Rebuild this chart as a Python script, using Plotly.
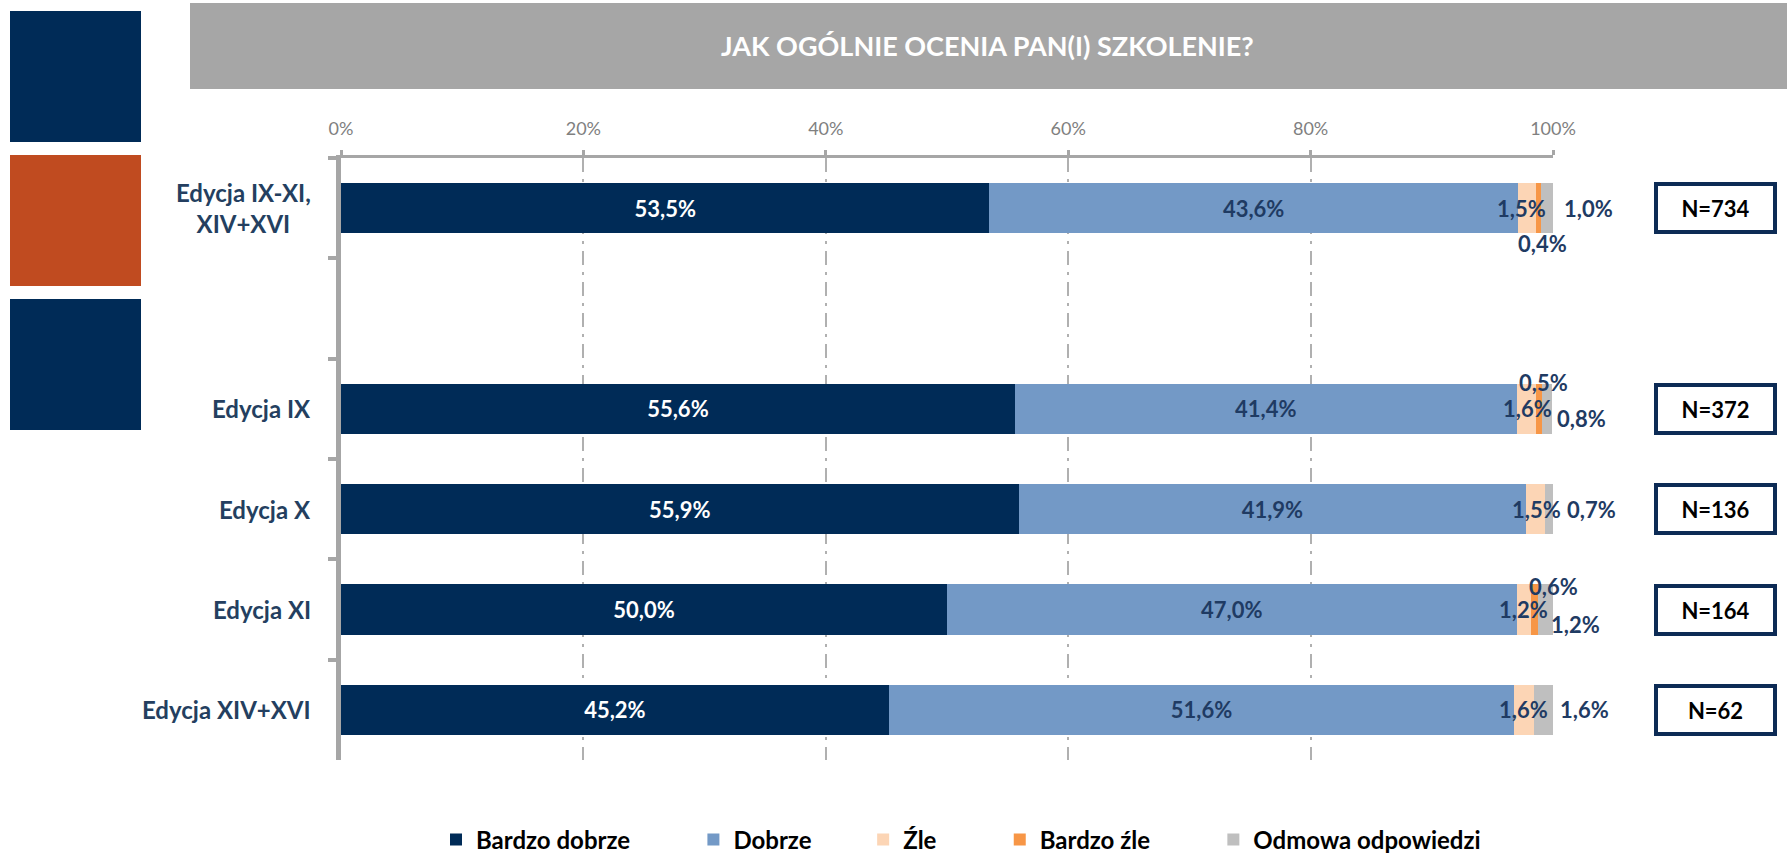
import plotly.graph_objects as go

# ---- data -------------------------------------------------------------
groups = ["Edycja IX-XI, XIV+XVI", "Edycja IX", "Edycja X", "Edycja XI", "Edycja XIV+XVI"]
group_labels = ["Edycja IX-XI,<br>XIV+XVI", "Edycja IX", "Edycja X", "Edycja XI", "Edycja XIV+XVI"]
bardzo_dobrze = [53.5, 55.6, 55.9, 50.0, 45.2]
dobrze = [43.6, 41.4, 41.9, 47.0, 51.6]
zle = [1.5, 1.6, 1.5, 1.2, 1.6]
bardzo_zle = [0.4, 0.5, 0.0, 0.6, 0.0]
odmowa = [1.0, 0.8, 0.7, 1.2, 1.6]
sample_sizes = [734, 372, 136, 164, 62]
x_ticks = [0, 20, 40, 60, 80, 100]
title_text = "JAK OGÓLNIE OCENIA PAN(I) SZKOLENIE?"

series = [
    ("Bardzo dobrze", bardzo_dobrze, "#002B57"),
    ("Dobrze", dobrze, "#7399C6"),
    ("Źle", zle, "#FCD5B5"),
    ("Bardzo źle", bardzo_zle, "#F79646"),
    ("Odmowa odpowiedzi", odmowa, "#BFBFBF"),
]

# ---- geometry (pixels) ------------------------------------------------
W, H = 1787, 854
L, R, T, B = 341, 1553, 158, 760
SPACER = " "
categories = [groups[0], SPACER] + groups[1:]

FONT = "Lato, 'Open Sans', sans-serif"
NAVY_TXT = "#1F3B63"
GRAY = "#A6A6A6"


def px_x(x):
    return (x - L) / (R - L)


def px_y(y):
    return (B - y) / (B - T)


def fmt(v):
    return f"{v:.1f}".replace(".", ",") + "%"


fig = go.Figure()

# spacing after each legend entry (non-breaking spaces)
legend_pads = [10, 8, 10, 10, 0]
for i, (name, vals, color) in enumerate(series):
    if i == 0:
        text, tcol = [fmt(v) for v in vals], "white"
    elif i == 1:
        text, tcol = [fmt(v) for v in vals], NAVY_TXT
    else:
        text, tcol = None, NAVY_TXT
    fig.add_trace(go.Bar(
        y=groups,
        x=vals,
        orientation="h",
        name=name + "\u00a0" * legend_pads[i],
        marker=dict(color=color, line=dict(width=0)),
        text=text,
        textposition="inside" if text else "none",
        insidetextanchor="middle",
        textangle=0,
        constraintext="none",
        textfont=dict(family=FONT, size=22, color=tcol, weight="bold"),
        hoverinfo="skip",
    ))

# ---- labels for the thin segments --------------------------------------
# (xshift, yshift) in pixels relative to the anchor point of each label
zle_offsets = [(-5, 0), (1, 0), (1, 0), (0, 0), (0, 0)]
bz_offsets = [(4, -35), (4, 26), (0, 0), (19, 23), (0, 0)]
odm_offsets = [(9, 0), (3, -10), (12, 0), (-4, -15), (5, 0)]

annotations = []
for r, g in enumerate(groups):
    c1 = bardzo_dobrze[r] + dobrze[r]
    c2 = c1 + zle[r]
    c3 = c2 + bardzo_zle[r]
    c4 = c3 + odmowa[r]
    lab_font = dict(family=FONT, size=22, color=NAVY_TXT, weight="bold")
    if zle[r] > 0:
        annotations.append(dict(x=(c1 + c2) / 2, y=g, text=fmt(zle[r]), showarrow=False,
                                xanchor="center", xshift=zle_offsets[r][0],
                                yshift=zle_offsets[r][1], font=lab_font))
    if bardzo_zle[r] > 0:
        annotations.append(dict(x=(c2 + c3) / 2, y=g, text=fmt(bardzo_zle[r]), showarrow=False,
                                xanchor="center", xshift=bz_offsets[r][0],
                                yshift=bz_offsets[r][1], font=lab_font))
    if odmowa[r] > 0:
        annotations.append(dict(x=c4, y=g, text=fmt(odmowa[r]), showarrow=False,
                                xanchor="left", xshift=odm_offsets[r][0],
                                yshift=odm_offsets[r][1], font=lab_font))
    # category label on the left
    annotations.append(dict(x=px_x(313), xref="paper", y=g, text=group_labels[r],
                            showarrow=False, xanchor="right", align="center",
                            font=dict(family=FONT, size=24, color="#243F60", weight="bold")))
    # sample size box on the right
    annotations.append(dict(x=px_x(1715.5), xref="paper", y=g, text=f"N={sample_sizes[r]}",
                            showarrow=False, xanchor="center", yanchor="middle",
                            width=115, height=44, borderwidth=4, borderpad=0,
                            bordercolor="#0D2B55", bgcolor="white",
                            font=dict(family=FONT, size=22, color="black", weight="bold")))

# title banner text
annotations.append(dict(x=px_x(987), y=px_y(46), xref="paper", yref="paper", text=title_text,
                        showarrow=False, xanchor="center", yanchor="middle",
                        font=dict(family=FONT, size=27, color="white", weight="bold")))

shapes = [
    # title banner
    dict(type="rect", xref="paper", yref="paper", x0=px_x(190), x1=px_x(1800),
         y0=px_y(89), y1=px_y(3), fillcolor=GRAY, line=dict(width=0), layer="below"),
    # decorative squares on the left
    dict(type="rect", xref="paper", yref="paper", x0=px_x(10), x1=px_x(141),
         y0=px_y(142), y1=px_y(11), fillcolor="#002B57", line=dict(width=0)),
    dict(type="rect", xref="paper", yref="paper", x0=px_x(10), x1=px_x(141),
         y0=px_y(286), y1=px_y(155), fillcolor="#C04B20", line=dict(width=0)),
    dict(type="rect", xref="paper", yref="paper", x0=px_x(10), x1=px_x(141),
         y0=px_y(430), y1=px_y(299), fillcolor="#002B57", line=dict(width=0)),
]

fig.update_layout(
    width=W, height=H,
    margin=dict(l=L, r=W - R, t=T, b=H - B, pad=0, autoexpand=False),
    paper_bgcolor="white", plot_bgcolor="white",
    barmode="stack", bargap=0.5,
    font=dict(family=FONT),
    showlegend=True,
    legend=dict(orientation="h", x=px_x(436), xanchor="left", y=px_y(840), yanchor="middle",
                font=dict(family=FONT, size=24, color="black", weight="bold"),
                traceorder="normal", bgcolor="rgba(0,0,0,0)", borderwidth=0),
    annotations=annotations,
    shapes=shapes,
    xaxis=dict(
        side="top", range=[0, 100], tickvals=x_ticks, ticktext=[f"{v}%" for v in x_ticks],
        showline=True, linecolor=GRAY, linewidth=3,
        ticks="outside", ticklen=5, tickwidth=3, tickcolor=GRAY,
        ticklabelstandoff=8,
        tickfont=dict(family=FONT, size=18, color="#808080"),
        showgrid=True, gridcolor="#B0B0B0", gridwidth=1.5, griddash="14px,7px,3px,7px",
        zeroline=False, fixedrange=True,
    ),
    yaxis=dict(
        type="category", categoryorder="array", categoryarray=categories,
        range=[len(categories) - 0.5, -0.5],
        showline=True, linecolor=GRAY, linewidth=5,
        ticks="outside", tickson="boundaries", ticklen=8, tickwidth=4, tickcolor=GRAY,
        showticklabels=False, showgrid=False, zeroline=False, fixedrange=True,
    ),
)

fig.write_html("out.html")
